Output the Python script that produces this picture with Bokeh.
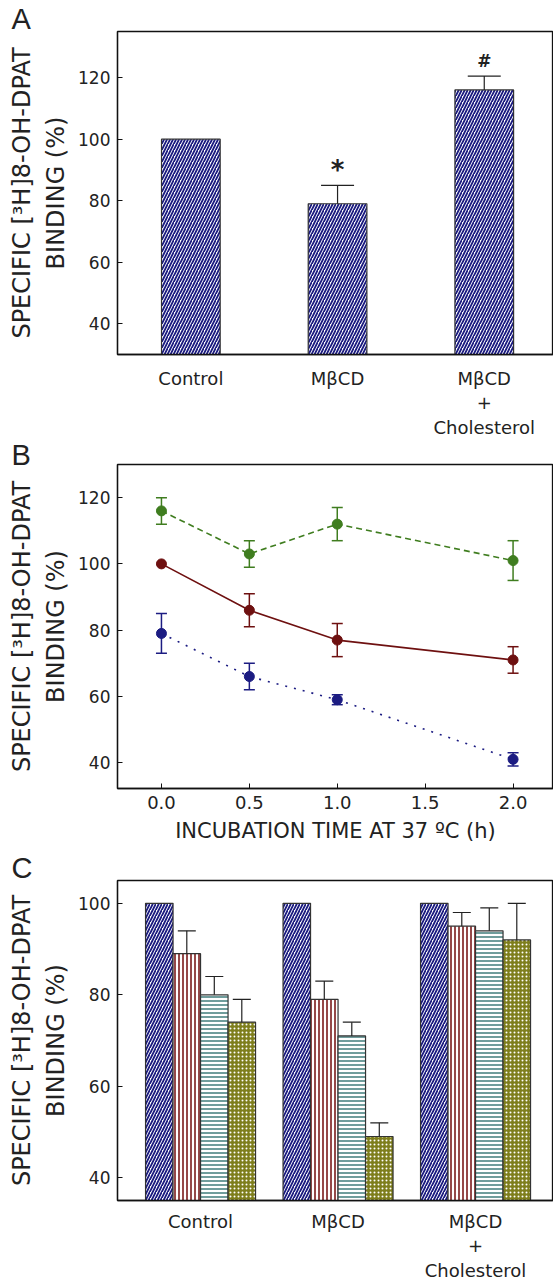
from bokeh.plotting import figure
from bokeh.layouts import column
from bokeh.models import FixedTicker, ColumnDataSource, Range1d, Whisker, TeeHead
from bokeh.embed import file_html
from bokeh.resources import INLINE
from bokeh.core.properties import value

# ---------------- data ----------------
# Panel A
a_categories = ["Control", "MβCD", "MβCD\n+\nCholesterol"]
a_values = [100, 79, 116]
a_errors = [0, 6, 4.5]
a_marks = ["", "*", "#"]

# Panel B (incubation time, h)
b_times = [0.0, 0.5, 1.0, 2.0]
b_control = [100, 86, 77, 71]
b_control_err = [0, 5, 5, 4]
b_mbcd = [79, 66, 59, 41]
b_mbcd_err = [6, 4, 1.5, 2]
b_chol = [116, 103, 112, 101]
b_chol_err = [4, 4, 5, 6]
b_ticks = [0.0, 0.5, 1.0, 1.5, 2.0]

# Panel C (bars per group: 0, 0.5, 1, 2 h)
c_categories = ["Control", "MβCD", "MβCD\n+\nCholesterol"]
c_control = [100, 89, 80, 74]
c_control_err = [0, 5, 4, 5]
c_mbcd = [100, 79, 71, 49]
c_mbcd_err = [0, 4, 3, 3]
c_chol = [100, 95, 94, 92]
c_chol_err = [0, 3, 5, 8]

y_label = "SPECIFIC [³H]8-OH-DPAT\nBINDING (%)"

# ---------------- style ----------------
FONT = "DejaVu Sans"
NAVY = "#1a1a80"
DRED = "#7a1a1a"
TEAL = "#3f7c7a"
OLIVE = "#7e7e1c"
GREEN = "#3f7d1f"
BRED = "#6e1010"
BNAVY = "#1c1c82"
TXT = "#222222"


def style(p, letter, standoff):
    p.outline_line_color = "#111111"
    p.outline_line_width = 1.3
    p.grid.visible = False
    p.background_fill_color = "white"
    p.border_fill_color = "white"
    for ax in p.axis:
        ax.axis_line_width = 1.3
        ax.axis_line_color = "#111111"
        ax.major_tick_in = 5
        ax.major_tick_out = 0
        ax.major_tick_line_color = "#111111"
        ax.minor_tick_line_color = None
        ax.major_label_text_font = FONT
        ax.major_label_text_font_size = "17px"
        ax.major_label_text_color = TXT
        ax.axis_label_text_font = FONT
        ax.axis_label_text_font_style = "normal"
        ax.axis_label_text_color = TXT
    p.yaxis.axis_label = y_label
    p.yaxis.axis_label_text_font_size = "24px"
    p.yaxis.axis_label_text_line_height = 1.22
    p.yaxis.major_label_standoff = 7
    p.yaxis.axis_label_standoff = 5
    p.title.text = letter
    p.title.align = "left"
    p.title.offset = -106
    p.title.standoff = standoff
    p.title.vertical_align = "bottom"
    p.title.text_font = "Liberation Sans"
    p.title.text_font_style = "normal"
    p.title.text_font_size = "29px"
    p.title.text_color = TXT


def up_whisker(p, xs, tops, errs, head, color="#222222"):
    xx, lo, hi = [], [], []
    for x, t, e in zip(xs, tops, errs):
        if e > 0:
            xx.append(x)
            lo.append(t)
            hi.append(t + e)
    src = ColumnDataSource(dict(x=xx, lower=lo, upper=hi))
    w = Whisker(source=src, base="x", lower="lower", upper="upper",
                dimension="height", line_color=color, line_width=1.2,
                upper_head=TeeHead(size=head, line_color=color, line_width=1.2),
                lower_head=None, level="glyph")
    p.add_layout(w)


# ---------------- Panel A ----------------
pa = figure(width=553, height=440, x_range=Range1d(0, 2.972), y_range=Range1d(30, 135),
            output_backend="svg", toolbar_location=None,
            min_border_left=117, min_border_right=0, min_border_top=31, min_border_bottom=85)
a_x = [i + 0.5 for i in range(len(a_categories))]
pa.vbar(x=a_x, top=a_values, bottom=0, width=0.4, fill_color="white",
        line_color="#333333", line_width=1.2, hatch_pattern="/", hatch_color=NAVY,
        hatch_scale=6, hatch_weight=1.8)
up_whisker(pa, a_x, a_values, a_errors, 33)
for mark, fsize, lift in (("*", "26px", 0.2), ("#", "17px", 1.8)):
    idx = [i for i, m in enumerate(a_marks) if m == mark]
    pa.text(x=[a_x[i] for i in idx],
            y=[a_values[i] + a_errors[i] + lift for i in idx],
            text=[a_marks[i] for i in idx], text_font=value(FONT), text_font_style="bold",
            text_font_size=fsize, text_align="center", text_baseline="bottom", text_color=TXT)
style(pa, "A", -6)
pa.yaxis.ticker = FixedTicker(ticks=[40, 60, 80, 100, 120])
pa.xaxis.ticker = FixedTicker(ticks=a_x)
pa.xaxis.major_label_overrides = {x: c for x, c in zip(a_x, a_categories)}
pa.xaxis.major_tick_in = 0
pa.xaxis.major_label_text_font_size = "18px"
pa.xaxis.major_label_standoff = 13
pa.xaxis.major_label_text_line_height = 1.17

# ---------------- Panel B ----------------
pb = figure(width=553, height=410, x_range=Range1d(-0.25, 2.23), y_range=Range1d(32.2, 130),
            output_backend="svg", toolbar_location=None,
            min_border_left=117, min_border_right=0, min_border_top=24, min_border_bottom=62)
series = [(b_chol, b_chol_err, GREEN, "dashed"),
          (b_control, b_control_err, BRED, "solid"),
          (b_mbcd, b_mbcd_err, BNAVY, "dotted")]
for vals, errs, col, dash in series:
    xx, lo, hi = [], [], []
    for x, v, e in zip(b_times, vals, errs):
        if e > 0:
            xx.append(x)
            lo.append(v - e)
            hi.append(v + e)
    src = ColumnDataSource(dict(x=xx, lower=lo, upper=hi))
    pb.add_layout(Whisker(source=src, base="x", lower="lower", upper="upper",
                          dimension="height", line_color=col, line_width=1.5,
                          upper_head=TeeHead(size=11, line_color=col, line_width=1.5),
                          lower_head=TeeHead(size=11, line_color=col, line_width=1.5)))
    ld = {"dashed": "6 4", "solid": "solid", "dotted": "2 7"}[dash]
    pb.line(b_times, vals, line_color=col, line_width=1.6, line_dash=ld)
    pb.scatter(b_times, vals, size=10, marker="circle", fill_color=col, line_color=col)
style(pb, "B", -13)
pb.yaxis.ticker = FixedTicker(ticks=[40, 60, 80, 100, 120])
pb.xaxis.ticker = FixedTicker(ticks=b_ticks)
pb.xaxis.major_label_overrides = {t: f"{t:.1f}" for t in b_ticks}
pb.xaxis.major_label_text_font_size = "18px"
pb.xaxis.major_label_standoff = 7
pb.xaxis.axis_label = "INCUBATION TIME AT 37 ºC (h)"
pb.xaxis.axis_label_text_font_size = "21px"
pb.xaxis.axis_label_standoff = 7

# ---------------- Panel C ----------------
pc = figure(width=553, height=433, x_range=Range1d(0.396, 3.567), y_range=Range1d(35, 105),
            output_backend="svg", toolbar_location=None,
            min_border_left=117, min_border_right=0, min_border_top=30, min_border_bottom=78)
c_x = [i + 1 for i in range(len(c_categories))]
c_offsets = [-0.3, -0.1, 0.1, 0.3]
c_styles = [dict(fill_color="white", hatch_pattern="/", hatch_color=NAVY, hatch_scale=6, hatch_weight=1.8),
            dict(fill_color="white", hatch_pattern="|", hatch_color=DRED, hatch_scale=4, hatch_weight=1.6),
            dict(fill_color="white", hatch_pattern="-", hatch_color=TEAL, hatch_scale=4, hatch_weight=1.5),
            dict(fill_color=OLIVE, hatch_pattern=".", hatch_color="white", hatch_scale=4, hatch_weight=1.6)]
groups = [(c_control, c_control_err), (c_mbcd, c_mbcd_err), (c_chol, c_chol_err)]
for k, off in enumerate(c_offsets):
    xs = [c + off for c in c_x]
    tops = [g[0][k] for g in groups]
    errs = [g[1][k] for g in groups]
    pc.vbar(x=xs, top=tops, bottom=0, width=0.2, line_color="#333333", line_width=1.2, **c_styles[k])
    up_whisker(pc, xs, tops, errs, 18)
style(pc, "C", -7)
pc.yaxis.ticker = FixedTicker(ticks=[40, 60, 80, 100])
pc.xaxis.ticker = FixedTicker(ticks=c_x)
pc.xaxis.major_label_overrides = {x: c for x, c in zip(c_x, c_categories)}
pc.xaxis.major_tick_in = 0
pc.xaxis.major_label_text_font_size = "18px"
pc.xaxis.major_label_standoff = 10
pc.xaxis.major_label_text_line_height = 1.17

layout = column(pa, pb, pc, spacing=0)
open("out.html", "w").write(file_html(layout, INLINE))
